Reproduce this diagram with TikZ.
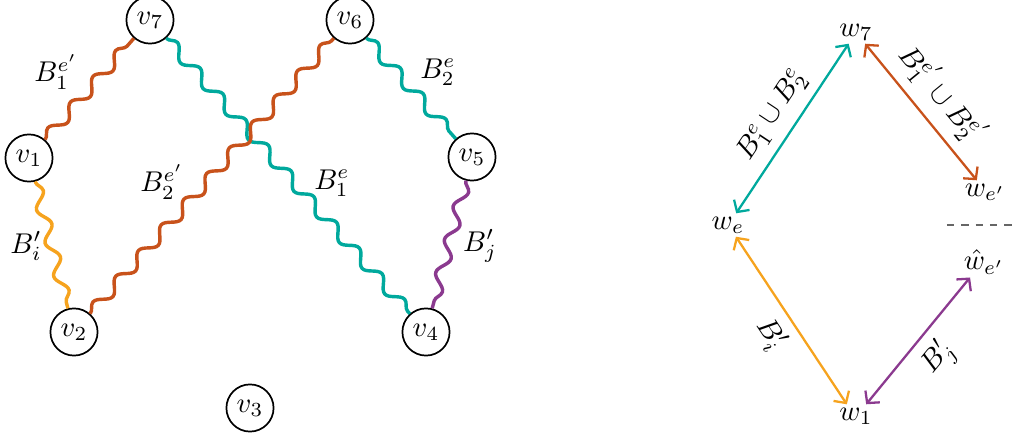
\documentclass[tikz,border=0pt]{standalone}
\usetikzlibrary{arrows.meta,decorations.pathmorphing}
\definecolor{rust}{HTML}{C8521B}
\definecolor{jade}{HTML}{00A99D}
\definecolor{amber}{HTML}{F6A31E}
\definecolor{plum}{HTML}{8B3A8F}
\tikzset{
  vert/.style={
    draw,
    circle,
    line width=0.6pt,
    minimum size=16.5pt,
    inner sep=0pt,
    fill=white
  },
  wavy/.style={
    line width=1.2pt,
    decorate,
    decoration={snake, segment length=12pt, amplitude=2pt}
  },
  wnode/.style={
    inner sep=1pt
  },
  link/.style={
    line width=0.8pt,
    {Straight Barb[length=3pt,width=6.5pt]}-{Straight Barb[length=3pt,width=6.5pt]}
  },
  linklabel/.style={
    text=black,
    sloped
  }
}

\begin{document}
\begin{tikzpicture}[x=0.35pt,y=0.35pt]
  \useasboundingbox (0,0) rectangle (1018,438);

  % --- left: the vertices ---
  \node[vert] (v7) at (150,418) {$v_7$};
  \node[vert] (v6) at (350,418) {$v_6$};
  \node[vert] (v1) at (29,280) {$v_1$};
  \node[vert] (v5) at (472,281) {$v_5$};
  \node[vert] (v2) at (74,106) {$v_2$};
  \node[vert] (v4) at (426,106) {$v_4$};
  \node[vert] (v3) at (250,30) {$v_3$};

  % --- left: the wavy paths ---
  \draw[wavy,rust] (v1) -- (v7);
  \draw[wavy,jade] (v7) -- (v4);
  \draw[wavy,rust] (v2) -- (v6);
  \draw[wavy,jade] (v6) -- (v5);
  \draw[wavy,amber] (v1) -- (v2);
  \draw[wavy,plum] (v5) -- (v4);

  % --- left: path labels ---
  \node (l17) at (56,366) {$B_1^{e'}$};
  \node (l26) at (162,256) {$B_2^{e'}$};
  \node (l74) at (332,255) {$B_1^{e}$};
  \node (l65) at (438,366) {$B_2^{e}$};
  \node (l12) at (26,192) {$B_i'$};
  \node (l54) at (480,192) {$B_j'$};

  % --- right: the contracted picture ---
  \node[wnode] (w7) at (856,406) {$w_7$};
  \node[wnode] (we) at (728,213) {$w_e$};
  \node[wnode] (wf) at (985,246) {$w_{e'}$};
  \node[wnode] (hf) at (984,176) {$\hat{w}_{e'}$};
  \node[wnode] (w1) at (856,22) {$w_1$};

  \draw[link,jade] (we.55) -- node[linklabel,above] {$B_1^e\cup B_2^e$} (w7.238);
  \draw[link,rust] (w7.-52) -- node[linklabel,above] {$B_1^{e'}\cup B_2^{e'}$} (wf.125);
  \draw[link,amber] (we.-56) -- node[linklabel,below] {$B_i'$} (w1.128);
  \draw[link,plum] (w1.49) -- node[linklabel,below] {$B_j'$} (hf.228);

  \draw[dashed,gray!80!black,line width=0.5pt,dash pattern=on 2.6pt off 2.4pt] (947,213) -- (1018,213);

\end{tikzpicture}
\end{document}
